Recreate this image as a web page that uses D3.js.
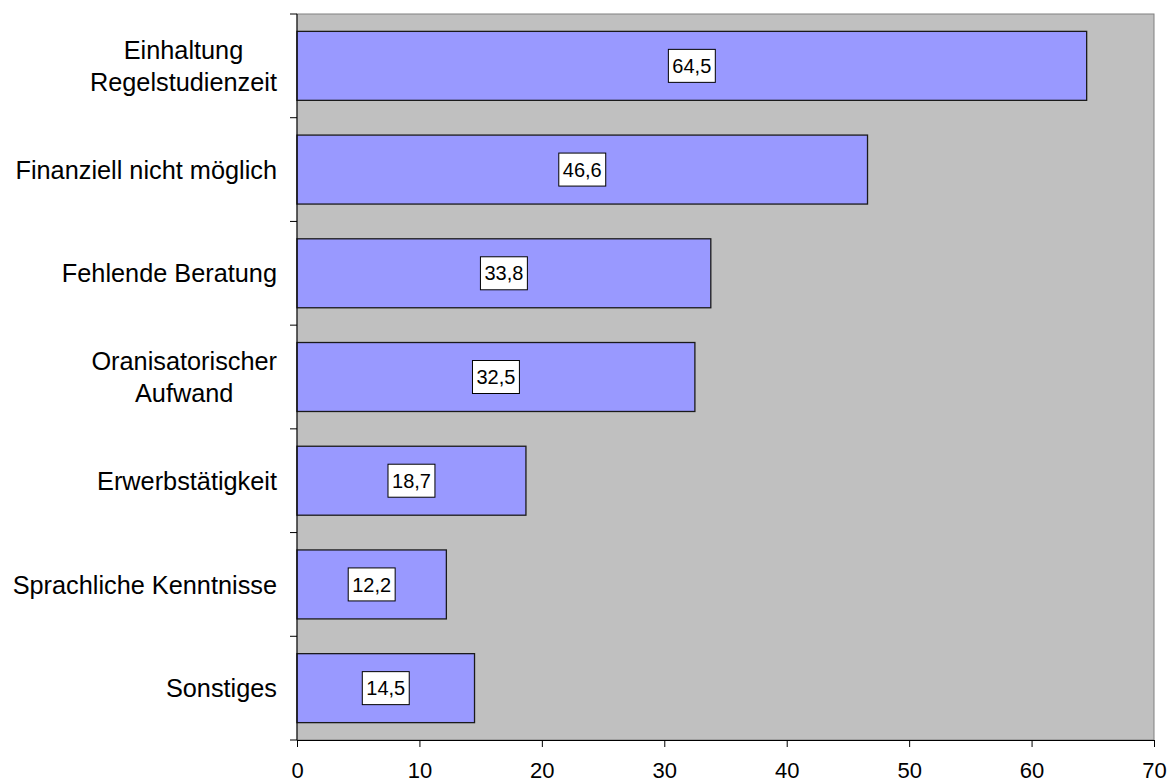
<!DOCTYPE html>
<html>
<head>
<meta charset="utf-8">
<script src="https://cdn.jsdelivr.net/npm/d3@7"></script>
<style>
  body { margin: 0; background: #fff; }
  text { font-family: "Liberation Sans", Arial, sans-serif; fill: #000; }
</style>
</head>
<body>
<div id="chart"></div>
<script>
// categories (lines of each label) and values
var categories = [
    ["Einhaltung", "Regelstudienzeit"],
    ["Finanziell nicht möglich"],
    ["Fehlende Beratung"],
    ["Oranisatorischer", "Aufwand"],
    ["Erwerbstätigkeit"],
    ["Sprachliche Kenntnisse"],
    ["Sonstiges"]
];
var values = [64.5, 46.6, 33.8, 32.5, 18.7, 12.2, 14.5];
var xTicks = [0, 10, 20, 30, 40, 50, 60, 70];

var svgWidth = 1170;
var svgHeight = 783;

var margin = {
    top: 14,
    right: 16,
    bottom: 43,
    left: 297
};

var width = svgWidth - margin.left - margin.right;
var height = svgHeight - margin.top - margin.bottom;

var svg = d3.select("#chart")
    .append("svg")
    .attr("width", svgWidth)
    .attr("height", svgHeight);

var chartGroup = svg.append("g")
    .attr("transform", `translate(${margin.left}, ${margin.top})`);

var data = categories.map(function(c, i) {
    return { key: i, lines: c, value: values[i] };
});

var xScale = d3.scaleLinear()
    .domain([0, 70])
    .range([0, width]);

var yScale = d3.scaleBand()
    .domain(data.map(d => d.key))
    .range([0, height])
    .paddingInner(0.335)
    .paddingOuter(0.1675);

// plot area
chartGroup.append("rect")
    .attr("width", width)
    .attr("height", height)
    .attr("fill", "#c0c0c0")
    .attr("stroke", "#808080")
    .attr("stroke-width", 1);

// bars
chartGroup.selectAll(".bar")
    .data(data)
    .enter()
    .append("rect")
    .attr("class", "bar")
    .attr("x", 0)
    .attr("y", d => yScale(d.key))
    .attr("width", d => xScale(d.value))
    .attr("height", yScale.bandwidth())
    .attr("fill", "#9999ff")
    .attr("stroke", "#1a1a1a")
    .attr("stroke-width", 1.3);

// value labels in boxes
var labels = chartGroup.selectAll(".vlabel")
    .data(data)
    .enter()
    .append("g")
    .attr("class", "vlabel")
    .attr("transform", d => `translate(${xScale(d.value / 2)}, ${yScale(d.key) + yScale.bandwidth() / 2})`);

labels.append("rect")
    .attr("fill", "#fff")
    .attr("stroke", "#000")
    .attr("stroke-width", 1);

labels.append("text")
    .attr("text-anchor", "middle")
    .attr("dy", "0.36em")
    .style("font-size", "20px")
    .text(d => d3.format(".1f")(d.value).replace(".", ","));

labels.each(function() {
    var g = d3.select(this);
    var w = g.select("text").node().getComputedTextLength();
    g.select("rect")
        .attr("x", -w / 2 - 4)
        .attr("y", -16.5)
        .attr("width", w + 8)
        .attr("height", 33);
});

// x axis
var bottomAxis = d3.axisBottom(xScale)
    .tickValues(xTicks)
    .tickSize(7)
    .tickPadding(15)
    .tickFormat(d3.format("d"));

var xAxis = chartGroup.append("g")
    .attr("transform", `translate(0, ${height})`)
    .call(bottomAxis);
xAxis.selectAll("text").style("font-size", "22px");
xAxis.select(".domain").attr("stroke", "#000");

// y axis: ticks on band borders
var step = yScale.step();
var yBorders = d3.range(categories.length + 1).map(i => i * step);

chartGroup.append("line")
    .attr("x1", 0).attr("x2", 0)
    .attr("y1", 0).attr("y2", height)
    .attr("stroke", "#000");

chartGroup.selectAll(".ytick")
    .data(yBorders)
    .enter()
    .append("line")
    .attr("class", "ytick")
    .attr("x1", -7).attr("x2", 0)
    .attr("y1", d => d).attr("y2", d => d)
    .attr("stroke", "#000");

// category labels
var lineHeight = 32;
var catLabels = chartGroup.selectAll(".clabel")
    .data(data)
    .enter()
    .append("text")
    .attr("class", "clabel")
    .attr("text-anchor", "middle")
    .style("font-size", "25.3px");

catLabels.selectAll("tspan")
    .data(d => d.lines.map(l => ({ line: l, n: d.lines.length, key: d.key })))
    .enter()
    .append("tspan")
    .attr("x", 0)
    .attr("y", (t, i) => yScale(t.key) + yScale.bandwidth() / 2 + (i - (t.n - 1) / 2) * lineHeight)
    .attr("dy", "0.36em")
    .text(t => t.line);

// right-align each label block, centre its lines
catLabels.each(function() {
    var el = d3.select(this);
    var w = d3.max(el.selectAll("tspan").nodes(), n => n.getComputedTextLength());
    el.selectAll("tspan").attr("x", -20 - w / 2);
});
</script>
</body>
</html>
